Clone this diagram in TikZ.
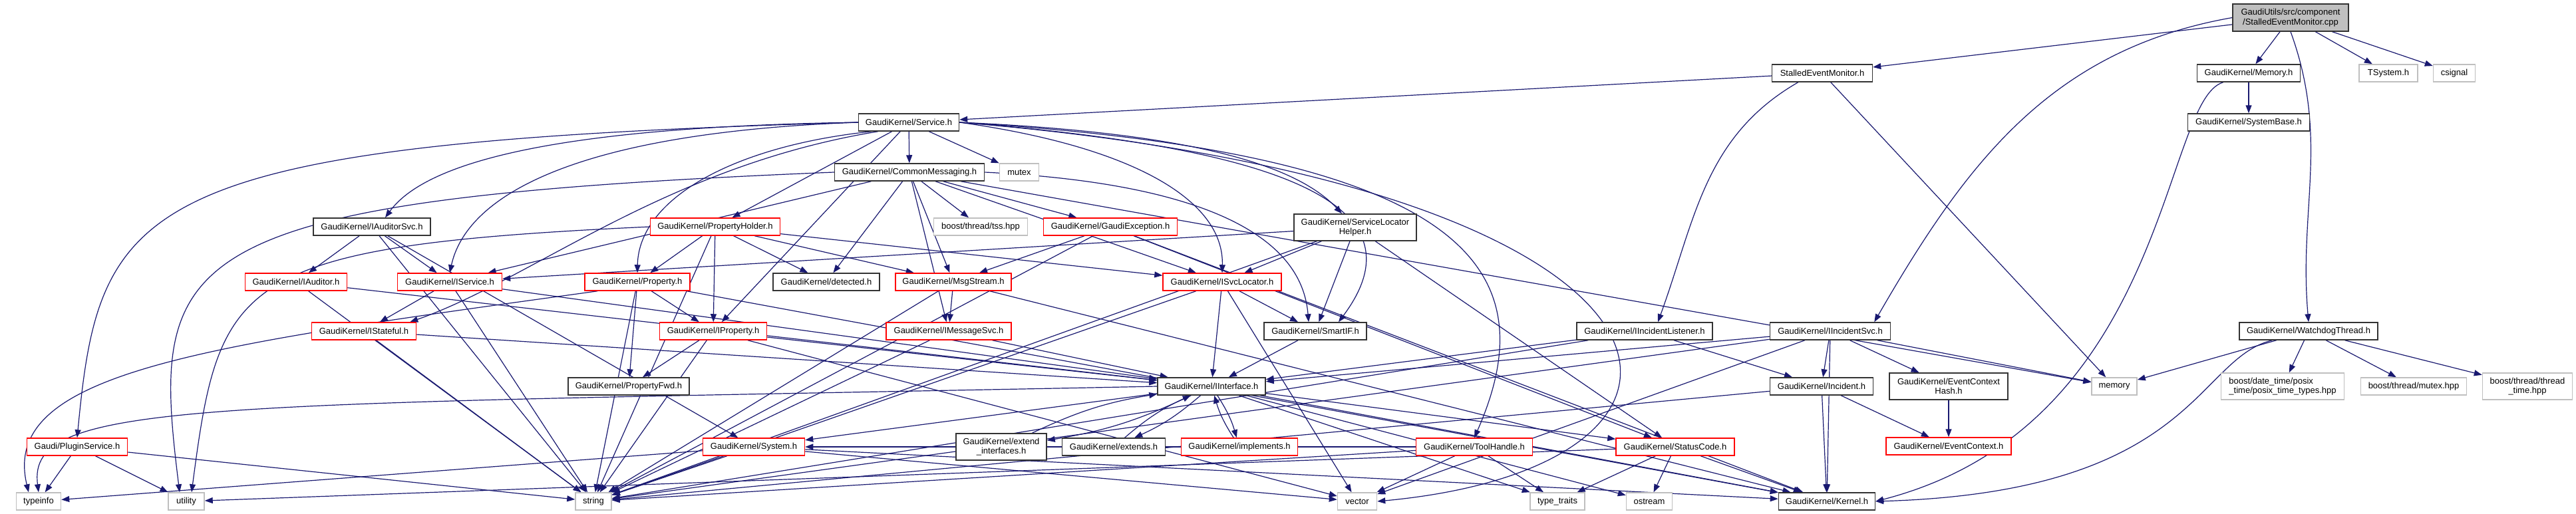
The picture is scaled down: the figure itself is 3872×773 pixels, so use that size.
\documentclass[tikz,border=0pt]{standalone}
\usepackage{fontspec}
\setmainfont{Liberation Sans}
\usetikzlibrary{arrows.meta,backgrounds}
\definecolor{EdgeBlue}{HTML}{191970}
\definecolor{BoxGray}{HTML}{BFBFBF}
\definecolor{BoxRed}{HTML}{FF0000}

\begin{document}
\begin{tikzpicture}[x=1pt, y=-1pt,
  hdr/.style={rectangle, draw=black!80, line width=1.5pt, fill=white, inner sep=0pt,
    minimum height=26pt, align=center, font=\fontsize{13}{14.5}\selectfont},
  trunc/.style={hdr, draw=BoxRed},
  ext/.style={hdr, draw=BoxGray},
  dep/.style={EdgeBlue, line width=1.2pt, -{Triangle[length=12pt,width=9pt]}}]
\useasboundingbox (0,0) rectangle (3872,773);

% the source file and its direct includes
\node[hdr, fill=BoxGray, minimum width=174pt, minimum height=41pt] (root) at (3443,26.5) {GaudiUtils/src/component\\/StalledEventMonitor.cpp};
\node[hdr, minimum width=151pt] (semh) at (2739,110) {StalledEventMonitor.h};
\node[hdr, minimum width=155pt] (memh) at (3380,110) {GaudiKernel/Memory.h};
\node[ext, minimum width=88pt] (tsystem) at (3590,110) {TSystem.h};
\node[ext, minimum width=63pt] (csignal) at (3689,110) {csignal};

% GaudiKernel headers, row by row
\node[hdr, minimum width=151pt] (service) at (1366,184) {GaudiKernel/Service.h};
\node[hdr, minimum width=183pt] (sysbase) at (3380,184) {GaudiKernel/SystemBase.h};
\node[hdr, minimum width=225pt] (commsg) at (1367,259) {GaudiKernel/CommonMessaging.h};
\node[ext, minimum width=59pt] (mutex) at (1532,259) {mutex};
\node[hdr, minimum width=176pt] (auditorsvc) at (559,341) {GaudiKernel/IAuditorSvc.h};
\node[trunc, minimum width=195pt] (propholder) at (1075,341) {GaudiKernel/PropertyHolder.h};
\node[ext, minimum width=141pt] (tss) at (1474,341) {boost/thread/tss.hpp};
\node[trunc, minimum width=201pt] (gexcept) at (1669,341) {GaudiKernel/GaudiException.h};
\node[hdr, minimum width=184pt, minimum height=40pt] (slochelper) at (2037,342) {GaudiKernel/ServiceLocator\\Helper.h};
\node[trunc, minimum width=153pt] (iauditor) at (445,424) {GaudiKernel/IAuditor.h};
\node[trunc, minimum width=157pt] (iservice) at (676,424) {GaudiKernel/IService.h};
\node[trunc, minimum width=158pt] (property) at (958,424) {GaudiKernel/Property.h};
\node[hdr, minimum width=160pt] (detected) at (1242,424) {GaudiKernel/detected.h};
\node[trunc, minimum width=174pt] (msgstream) at (1433,424) {GaudiKernel/MsgStream.h};
\node[trunc, minimum width=178pt] (isvcloc) at (1837,424) {GaudiKernel/ISvcLocator.h};
\node[trunc, minimum width=157pt] (istateful) at (547,498) {GaudiKernel/IStateful.h};
\node[trunc, minimum width=161pt] (iproperty) at (1072,498) {GaudiKernel/IProperty.h};
\node[trunc, minimum width=188pt] (imsgsvc) at (1426,498) {GaudiKernel/IMessageSvc.h};
\node[hdr, minimum width=154pt] (smartif) at (1977,498) {GaudiKernel/SmartIF.h};
\node[hdr, minimum width=204pt] (iinclistener) at (2472,498) {GaudiKernel/IIncidentListener.h};
\node[hdr, minimum width=181pt] (iincsvc) at (2751,498) {GaudiKernel/IIncidentSvc.h};
\node[hdr, minimum width=208pt] (watchdog) at (3470,498) {GaudiKernel/WatchdogThread.h};
\node[hdr, minimum width=182pt] (propfwd) at (945,581) {GaudiKernel/PropertyFwd.h};
\node[hdr, minimum width=162pt] (iinterface) at (1821,581) {GaudiKernel/IInterface.h};
\node[hdr, minimum width=155pt] (incident) at (2738,581) {GaudiKernel/Incident.h};
\node[hdr, minimum width=178pt, minimum height=40pt] (echash) at (2929,581) {GaudiKernel/EventContext\\Hash.h};
\node[ext, minimum width=68pt] (memory) at (3178,581) {memory};
\node[ext, minimum width=185pt, minimum height=40pt, align=left] (posix) at (3431,581) {boost/date\_time/posix\\\_time/posix\_time\_types.hpp};
\node[ext, minimum width=159pt] (bmutex) at (3628,581) {boost/thread/mutex.hpp};
\node[ext, minimum width=135pt, minimum height=40pt] (threadtime) at (3799,581) {boost/thread/thread\\\_time.hpp};
\node[trunc, minimum width=151pt] (pluginsvc) at (116,672) {Gaudi/PluginService.h};
\node[trunc, minimum width=153pt] (system) at (1133,672) {GaudiKernel/System.h};
\node[hdr, minimum width=136pt, minimum height=40pt] (extendif) at (1505,672) {GaudiKernel/extend\\\_interfaces.h};
\node[hdr, minimum width=155pt] (extends) at (1674,672) {GaudiKernel/extends.h};
\node[trunc, minimum width=175pt] (implements) at (1863,672) {GaudiKernel/implements.h};
\node[trunc, minimum width=175pt] (toolhandle) at (2216,672) {GaudiKernel/ToolHandle.h};
\node[trunc, minimum width=178pt] (statuscode) at (2518,672) {GaudiKernel/StatusCode.h};
\node[trunc, minimum width=188pt] (eventctx) at (2929,671) {GaudiKernel/EventContext.h};

% system headers along the bottom
\node[ext, minimum width=67pt] (typeinfo) at (58,754) {typeinfo};
\node[ext, minimum width=54pt] (utility) at (280,754) {utility};
\node[ext, minimum width=54pt] (string) at (892,754) {string};
\node[ext, minimum width=59pt] (vector) at (2040,754) {vector};
\node[ext, minimum width=82pt] (typetraits) at (2341,754) {type\_traits};
\node[ext, minimum width=69pt] (ostream) at (2479,754) {ostream};
\node[hdr, minimum width=145pt] (kernel) at (2746,754) {GaudiKernel/Kernel.h};

\begin{scope}[on background layer]
% plain include edges
\foreach \a/\b in {root/semh, root/memh, root/tsystem, root/csignal,
  semh/service, semh/memory, memh/sysbase,
  watchdog/memory, watchdog/posix, watchdog/bmutex, watchdog/threadtime,
  service/commsg, service/mutex, service/propholder, service/iproperty,
  commsg/iservice, commsg/isvcloc, commsg/imsgsvc, commsg/msgstream, commsg/detected,
  commsg/tss, commsg/gexcept, commsg/memory,
  auditorsvc/iauditor, auditorsvc/iservice, auditorsvc/system, auditorsvc/string,
  propholder/property, propholder/iproperty, propholder/detected, propholder/msgstream,
  propholder/isvcloc, propholder/string,
  gexcept/msgstream, gexcept/string, gexcept/statuscode, gexcept/kernel,
  slochelper/iservice, slochelper/isvcloc, slochelper/smartif, slochelper/statuscode, slochelper/string,
  iauditor/iinterface, iauditor/string,
  iservice/istateful, iservice/iinterface, iservice/string,
  property/iproperty, property/propfwd, property/string, property/kernel,
  msgstream/imsgsvc, msgstream/string, msgstream/kernel,
  isvcloc/iinterface, isvcloc/smartif, isvcloc/string, isvcloc/vector,
  istateful/iinterface, istateful/string,
  iproperty/propfwd, iproperty/string, iproperty/iinterface, iproperty/vector,
  imsgsvc/iinterface, imsgsvc/string, smartif/iinterface,
  iinclistener/iinterface, iinclistener/incident, iinclistener/string,
  iincsvc/iinterface, iincsvc/incident, iincsvc/echash, iincsvc/memory, iincsvc/kernel,
  iincsvc/vector, iincsvc/string,
  incident/kernel, incident/eventctx, incident/string, echash/eventctx,
  iinterface/system, iinterface/ostream, iinterface/typetraits, iinterface/kernel, iinterface/statuscode,
  pluginsvc/typeinfo, pluginsvc/utility, pluginsvc/string,
  system/string, system/typeinfo, system/kernel, system/vector,
  toolhandle/vector, toolhandle/typetraits, toolhandle/string, toolhandle/system,
  statuscode/utility, statuscode/typetraits, statuscode/ostream, statuscode/kernel}
  \draw[dep] (\a) -- (\b);

% routed edges
\draw[dep] (root.west) to[out=190,in=60] ([xshift=-25pt]iincsvc.north east);
\draw[dep] (root.south) to[out=-70,in=95] (watchdog.north);
\draw[dep] ([xshift=40pt]memh.south west) .. controls (3250,150) and (3260,640) .. (kernel.east);
\draw[dep] ([xshift=50pt]watchdog.south west) .. controls (3300,540) and (3300,740) .. (kernel.east);
\draw[dep] ([xshift=40pt]semh.south west) to[out=-150,in=70] ([xshift=20pt]iinclistener.north);
\draw[dep] (service.west) .. controls (200,215) and (150,300) .. (pluginsvc.north);
\draw[dep] (service.west) .. controls (900,190) and (650,230) .. ([xshift=20pt]auditorsvc.north);
\draw[dep] (service.west) .. controls (850,200) and (700,300) .. (iservice.north);
\draw[dep] ([xshift=30pt]service.south west) .. controls (1000,250) and (800,420) .. ([xshift=-10pt]istateful.north east);
\draw[dep] ([xshift=20pt]service.south west) .. controls (1100,220) and (960,300) .. (property.north);
\draw[dep] (service.east) .. controls (2200,230) and (2330,400) .. (toolhandle.north);
\draw[dep] (service.east) .. controls (1900,220) and (2150,300) .. ([xshift=35pt]smartif.north);
\draw[dep] (service.east) .. controls (1800,200) and (1950,250) .. ([xshift=-20pt]slochelper.north);
\draw[dep] (service.east) .. controls (1700,220) and (1840,300) .. (isvcloc.north);
\draw[dep] (service.east) .. controls (2600,280) and (2650,700) .. (vector.east);
\draw[dep] (commsg.west) .. controls (250,300) and (225,380) .. ([xshift=-10pt]utility.north);
\draw[dep] (commsg.east) .. controls (1900,280) and (1960,400) .. ([xshift=-10pt]smartif.north);
\draw[dep] (propholder.west) .. controls (350,370) and (330,420) .. ([xshift=8pt]utility.north);
\draw[dep] ([xshift=20pt]property.south west) .. controls (300,520) and (0,560) .. ([xshift=-15pt]typeinfo.north);
\draw[dep] (iinterface.west) .. controls (300,610) and (40,600) .. (typeinfo.north);

% IInterface and its helpers include one another
\draw[dep] (iinterface) to[bend left=8] (extendif);
\draw[dep] (extendif) to[bend left=8] (iinterface);
\draw[dep] (iinterface) to[bend left=8] (extends);
\draw[dep] (extends) to[bend left=8] (iinterface);
\draw[dep] (iinterface) to[bend left=8] (implements);
\draw[dep] (implements) to[bend left=8] (iinterface);
\end{scope}
\end{tikzpicture}
\end{document}
